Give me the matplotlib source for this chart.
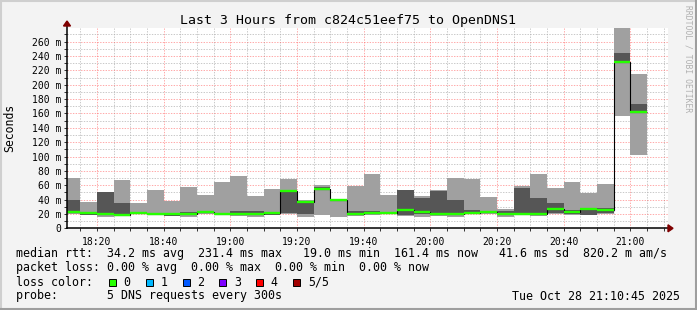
# Smokeping style latency graph: last 3 hours, c824c51eef75 -> OpenDNS1

import numpy as np
import matplotlib.pyplot as plt
from matplotlib.patches import Rectangle, Polygon
from matplotlib.lines import Line2D
from matplotlib.ticker import MultipleLocator, FixedLocator

W, H = 697, 310

# --------- data (ms), one entry per 5 minute step, step end 18:15 .. 21:05 ---------
step_end = ["18:15", "18:20", "18:25", "18:30", "18:35", "18:40", "18:45", "18:50",
            "18:55", "19:00", "19:05", "19:10", "19:15", "19:20", "19:25", "19:30",
            "19:35", "19:40", "19:45", "19:50", "19:55", "20:00", "20:05", "20:10",
            "20:15", "20:20", "20:25", "20:30", "20:35", "20:40", "20:45", "20:50",
            "20:55", "21:00", "21:05"]
ping_min = [20, 18, 16, 17, 19.5, 18, 17, 16, 19.5, 19.5, 17.5, 16, 18, 19.5, 16, 18,
            16, 17, 19, 20, 17.5, 16, 16.5, 16, 20, 19.5, 16, 19, 17.5, 19.5, 19, 18.5,
            20, 157, 102]
ping_lo = [21, 19, 18, 18, 20, 19.5, 17.5, 19, 21, 20, 18.5, 18, 19, 22, 20, 54,
           37.5, 18.5, 20.5, 21, 18, 19.5, 18.5, 18, 21, 21, 19, 19.5, 18.5, 21, 20.5, 19,
           22, 230, 160]
median = [23, 22, 19.5, 19, 21, 20.4, 19.5, 20.4, 22.3, 20.4, 19.5, 19.5, 21.5, 52.4, 36.6, 55.2,
          39, 19.5, 21.8, 21.8, 25, 22.7, 20, 20.4, 21.8, 22.3, 20.4, 20.4, 19.5, 27, 22.7, 27,
          25.5, 231.4, 161.4]
ping_hi = [39, 23, 50.5, 35, 22, 21.5, 20.5, 23, 24, 21, 24, 24, 22.5, 53, 38, 57,
           40, 24, 24, 22.5, 53, 42, 52.5, 39.5, 25.5, 24.5, 24, 56, 42, 35.5, 25.5, 28,
           28, 244, 173]
ping_max = [70, 37, 51, 67, 35.5, 53, 38, 58, 46.5, 64.5, 73, 45, 55, 69, 39.5, 60.5,
            41.5, 59, 75.5, 46, 53.5, 45, 53, 70, 68.5, 43, 26.5, 59, 75.5, 56, 64.5, 49,
            61.5, 295, 215]

x_labels = ["18:20", "18:40", "19:00", "19:20", "19:40", "20:00", "20:20", "20:40", "21:00"]
y_ticks = [0, 20, 40, 60, 80, 100, 120, 140, 160, 180, 200, 220, 240, 260]

loss_labels = ["0", "1", "2", "3", "4", "5/5"]
loss_colors = ["#26ff00", "#00b8ff", "#0059ff", "#7e00ff", "#ff0000", "#a10000"]

title = "Last 3 Hours from c824c51eef75 to OpenDNS1"
stats_lines = [
    "median rtt:  34.2 ms avg  231.4 ms max   19.0 ms min  161.4 ms now   41.6 ms sd  820.2 m am/s",
    "packet loss: 0.00 % avg  0.00 % max  0.00 % min  0.00 % now",
    "loss color:",
    "probe:       5 DNS requests every 300s",
]
stamp = "Tue Oct 28 21:10:45 2025"


def to_min(hhmm):
    h, m = hhmm.split(":")
    return (int(h) - 18) * 60 + int(m)


def px(x, y):
    """pixel coords (from top left) -> figure fraction"""
    return x / W, 1 - y / H


MONO = "DejaVu Sans Mono"
plt.rcParams["font.family"] = MONO

fig = plt.figure(figsize=(W / 100, H / 100), dpi=100, facecolor="#f3f3f3")

# 3D frame around the image
fig.add_artist(Line2D([0, 1], [1 - 1 / H, 1 - 1 / H], color="#cfcfcf", lw=1.5))
fig.add_artist(Line2D([1 / W, 1 / W], [0, 1], color="#cfcfcf", lw=1.5))
fig.add_artist(Line2D([0, 1], [1 / H, 1 / H], color="#9e9e9e", lw=1.5))
fig.add_artist(Line2D([1 - 1 / W, 1 - 1 / W], [0, 1], color="#9e9e9e", lw=1.5))

left, right, top, bottom = 67, 668, 28, 228.3
ax = fig.add_axes([left / W, 1 - bottom / H, (right - left) / W, (bottom - top) / H])
ax.set_facecolor("white")
for s in ax.spines.values():
    s.set_visible(False)

t0, t1 = 11.0, 191.3
ax.set_xlim(t0, t1)
ax.set_ylim(0, 279)

ends = np.array([to_min(t) for t in step_end], dtype=float)
starts = np.concatenate([[t0], ends[:-1]])
widths = ends - starts
edges = np.concatenate([[t0], ends])

ping_min = np.array(ping_min)
ping_lo = np.array(ping_lo)
ping_hi = np.array(ping_hi)
ping_max = np.array(ping_max)
median = np.array(median)

# smoke: outer pair light, inner pair dark
ax.bar(starts, ping_max - ping_min, bottom=ping_min, width=widths, align="edge",
       color="#a0a0a0", linewidth=0, zorder=2)
ax.bar(starts, ping_hi - ping_lo, bottom=ping_lo, width=widths, align="edge",
       color="#565656", linewidth=0, zorder=3)

# median: thin black step, then loss-coloured segments
ax.stairs(median, edges, baseline=None, color="black", lw=0.8, zorder=4)
ax.hlines(median, starts, ends, color=loss_colors[0], lw=1.7, zorder=5)

# grid, drawn over the smoke like rrdtool does
ax.xaxis.set_major_locator(FixedLocator([to_min(t) for t in x_labels]))
ax.xaxis.set_minor_locator(MultipleLocator(5))
ax.yaxis.set_major_locator(FixedLocator(y_ticks))
ax.yaxis.set_minor_locator(MultipleLocator(10))
ax.grid(which="minor", color="#b0b0b0", alpha=0.7, lw=0.7, ls=(0, (1.4, 1.4)), zorder=6)
ax.grid(which="major", color="#ff6060", alpha=0.55, lw=0.7, ls=(0, (1.4, 1.4)), zorder=6)

ax.set_xticklabels(x_labels)
ax.set_yticklabels(["0"] + [f"{v} m" for v in y_ticks[1:]])
ax.tick_params(which="both", length=2, width=0.7, color="#333333", labelsize=7, pad=2)
ax.tick_params(axis="x", which="major", pad=4)

# axes with arrow heads
ax.plot([0, 1.0], [0, 0], transform=ax.transAxes, color="black", lw=1.1,
        clip_on=False, zorder=7)
ax.plot([0, 0], [0, 1.03], transform=ax.transAxes, color="black", lw=1.1,
        clip_on=False, zorder=7)
fig.add_artist(Polygon([px(668, 224.8), px(668, 231.8), px(673, 228.3)], closed=True,
                       color="#7f0000"))
fig.add_artist(Polygon([px(63.5, 26), px(70.5, 26), px(67, 21)], closed=True,
                       color="#7f0000"))

# titles
fig.text(*px(348.5, 24), title, fontsize=9.5, ha="center", va="baseline")
fig.text(*px(10, 128), "Seconds", fontsize=8.3, rotation=90, ha="center", va="center")
fig.text(*px(688, 5), "RRDTOOL / TOBI OETIKER", fontsize=5.8, rotation=-90,
         color="#b0b0b0", ha="center", va="top")

# legend / stats
for i, line in enumerate(stats_lines):
    fig.text(*px(16, 257.5 + 14 * i), line, fontsize=8.34, ha="left", va="baseline")
fig.text(*px(680, 299.5), stamp, fontsize=8.34, ha="right", va="baseline")

box_x = [108.7, 146, 183, 219.3, 256.3, 293.3]
for bx, lab, col in zip(box_x, loss_labels, loss_colors):
    fig.add_artist(Rectangle(px(bx, 286), 7 / W, 7 / H, facecolor=col,
                             edgecolor="black", lw=0.7))
    fig.text(*px(bx + 14.5, 285.5), lab, fontsize=8.34, ha="left", va="baseline")

fig.savefig("out.png", dpi=100, facecolor=fig.get_facecolor())
